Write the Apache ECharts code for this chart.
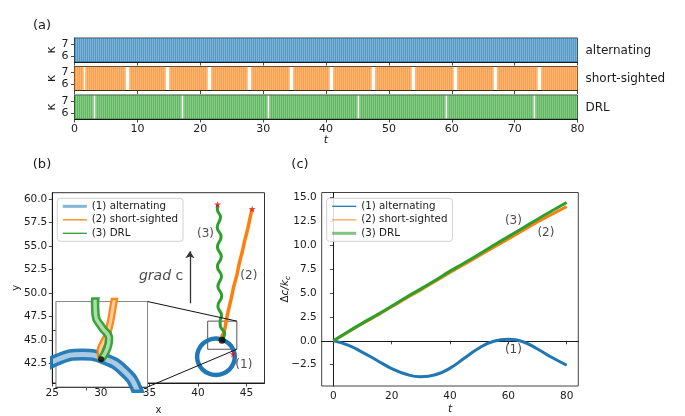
<!DOCTYPE html>
<html>
<head>
<meta charset="utf-8">
<script src="https://cdn.jsdelivr.net/npm/echarts@6/dist/echarts.min.js"></script>
<style>
html, body { margin: 0; padding: 0; background: #fff; }
#chart { width: 685px; height: 416px; }
</style>
</head>
<body>
<div id="chart"></div>
<script>
// ---------- (a) control signal kappa(t) ----------
const tMax = 80;
const kappaLow = 5.5;
const kappaHigh = 7.5;
const switchStep = 0.318;                // time between successive switches of kappa
const alternatingPauses = [];
const shortSightedPauses = [1.3, 8.1, 14.6, 21.3, 27.5, 34.3, 40.6, 47.3, 53.7, 60.4, 66.7, 73.5];
const drlPauses = [3.0, 17.1, 30.7, 44.9, 59.0, 73.0];
const pauseLengths = [0, 0.6, 0.3];
const stripNames = ['alternating', 'short-sighted', 'DRL'];
const tTicks = [0, 10, 20, 30, 40, 50, 60, 70, 80];
const kappaTicks = [6, 7];

// ---------- (b) swimmer trajectories ----------
const altX = [41.85, 42.59, 43.22, 43.64, 43.79, 43.64, 43.22, 42.59, 41.85, 41.11, 40.48, 40.06, 39.91, 40.06, 40.48, 41.11, 41.85];
const altY = [41.26, 41.41, 41.83, 42.46, 43.20, 43.94, 44.57, 44.99, 45.14, 44.99, 44.57, 43.94, 43.20, 42.46, 41.83, 41.41, 41.26];
const shortX = [42.48, 42.45, 42.66, 42.80, 42.90, 43.12, 43.42, 43.66, 44.00, 44.26, 44.56, 44.84, 45.16, 45.38, 45.58];
const shortY = [44.97, 45.30, 45.78, 46.36, 47.00, 48.10, 49.40, 50.60, 51.90, 53.20, 54.40, 55.70, 57.00, 58.10, 58.97];
const drlX = [42.48, 42.68, 42.74, 42.50, 42.30, 42.28, 42.42, 42.05, 42.45, 42.05, 42.42, 42.00, 42.40, 42.00, 42.38, 41.98, 42.32, 42.00, 42.02];
const drlY = [44.97, 45.35, 45.70, 46.10, 46.50, 47.00, 47.60, 48.60, 49.70, 50.70, 51.80, 52.80, 53.90, 54.90, 56.00, 57.00, 58.10, 58.90, 59.45];
const startPoint = [42.48, 44.97];
const endPoints = [[43.62, 43.48], [45.58, 58.97], [42.02, 59.45]];
const bxTicks = [25, 30, 35, 40, 45];
const byTicks = [42.5, 45.0, 47.5, 50.0, 52.5, 55.0, 57.5, 60.0];
const zoomBox = { x: [41, 44], y: [44, 47] };

// ---------- (c) concentration gain ----------
const tSamples = [0, 5, 10, 15, 20, 25, 30, 35, 40, 45, 50, 55, 60, 65, 70, 75, 80];
const gainAlt = [0, -0.45, -1.2, -2.05, -2.9, -3.5, -3.75, -3.55, -2.85, -1.8, -0.75, -0.05, 0.15, -0.1, -0.85, -1.75, -2.55];
const gainShort = [0, 0.90, 1.80, 2.66, 3.55, 4.45, 5.32, 6.22, 7.14, 8.00, 8.88, 9.77, 10.64, 11.52, 12.42, 13.22, 14.02];
const gainDrl = [0, 0.95, 1.85, 2.72, 3.62, 4.55, 5.42, 6.33, 7.28, 8.15, 9.05, 9.98, 10.88, 11.78, 12.70, 13.58, 14.45];
const cxTicks = [0, 20, 40, 60, 80];
const cyTicks = [-2.5, 0, 2.5, 5, 7.5, 10, 12.5, 15];

const seriesNames = ['(1) alternating', '(2) short-sighted', '(3) DRL'];
const colors = ['#1f77b4', '#ff7f0e', '#2ca02c'];
const FONT = 'DejaVu Sans';
const INK = '#1a1a1a';
const STAR = 'path://M50,0 L61,35 L98,35 L68,57 L79,91 L50,70 L21,91 L32,57 L2,35 L39,35 Z';

const zip = (xs, ys) => xs.map((x, i) => [x, ys[i]]);
const fmt1 = v => (v < 0 ? '\u2212' : '') + Math.abs(v).toFixed(1);

// times at which kappa jumps between its two levels (no jumps during a pause)
function switchTimes(pauses, pauseLen) {
  const times = [];
  for (let k = 0; k * switchStep <= tMax + 1e-9; k++) {
    const t = +(k * switchStep).toFixed(4);
    if (pauses.some(p => t >= p && t < p + pauseLen)) continue;
    times.push(t);
  }
  return times;
}
const pausesPerStrip = [alternatingPauses, shortSightedPauses, drlPauses];

// each jump is a vertical stroke spanning kappaLow..kappaHigh
function renderJump(params, api) {
  const t = api.value(0);
  const a = api.coord([t, kappaLow]);
  const b = api.coord([t, kappaHigh]);
  return {
    type: 'line',
    shape: { x1: a[0], y1: a[1], x2: b[0], y2: b[1] },
    style: { stroke: api.visual('color'), lineWidth: 2.8, opacity: 0.56 }
  };
}

const stripTops = [38, 66.5, 95];
const grids = stripTops.map(top => ({
  left: 74.5, top: top, width: 503, height: 24,
  show: true, borderColor: '#444', borderWidth: 1, backgroundColor: '#fff'
}));
grids.push({ left: 52.3, top: 192.7, width: 212.2, height: 194, show: true, borderColor: '#333', borderWidth: 1 });   // (b)
grids.push({ left: 56, top: 301.5, width: 91.5, height: 85.5, show: true, borderColor: '#888', borderWidth: 1, backgroundColor: '#fff', z: 5 }); // inset
grids.push({ left: 321.7, top: 192.5, width: 256.6, height: 196.8, show: true, borderColor: '#444', borderWidth: 1 }); // (c)

const tickStyle = { show: true, length: 3.5, lineStyle: { color: INK, width: 0.8 } };
const lineAxis = { show: true, lineStyle: { color: INK, width: 1 } };
const labelBase = { color: INK, fontFamily: FONT };

const xAxes = [];
const yAxes = [];
for (let i = 0; i < 3; i++) {
  xAxes.push({
    type: 'value', gridIndex: i, min: 0, max: tMax,
    axisLine: lineAxis, axisTick: Object.assign({}, tickStyle, { customValues: tTicks }),
    axisLabel: Object.assign({ show: i === 2, fontSize: 11, margin: 5, customValues: tTicks }, labelBase),
    splitLine: { show: false },
    name: i === 2 ? 't' : '', nameLocation: 'middle', nameGap: 16, nameMoveOverlap: false,
    nameTextStyle: { fontStyle: 'italic', fontSize: 11, color: INK, fontFamily: FONT }
  });
  yAxes.push({
    type: 'value', gridIndex: i, min: kappaLow, max: kappaHigh,
    axisLine: lineAxis, axisTick: Object.assign({}, tickStyle, { customValues: kappaTicks }),
    axisLabel: Object.assign({ fontSize: 11, margin: 6, customValues: kappaTicks }, labelBase),
    splitLine: { show: false },
    name: '\u03ba', nameLocation: 'middle', nameRotate: 90, nameGap: 16, nameMoveOverlap: false,
    nameTextStyle: { fontSize: 13, color: INK, fontFamily: FONT }
  });
}
// (b) main axes
xAxes.push({
  type: 'value', gridIndex: 3, min: 25, max: 46.85,
  axisLine: lineAxis, axisTick: Object.assign({}, tickStyle, { customValues: bxTicks }),
  axisLabel: Object.assign({ fontSize: 10.5, margin: 5, customValues: bxTicks }, labelBase),
  splitLine: { show: false },
  name: 'x', nameLocation: 'middle', nameGap: 22, nameMoveOverlap: false,
  nameTextStyle: { fontSize: 10, color: INK, fontFamily: FONT }
});
yAxes.push({
  type: 'value', gridIndex: 3, min: 40.4, max: 60.7,
  axisLine: lineAxis, axisTick: Object.assign({}, tickStyle, { customValues: byTicks }),
  axisLabel: Object.assign({ fontSize: 10.5, margin: 5, customValues: byTicks, formatter: fmt1 }, labelBase),
  splitLine: { show: false },
  name: 'y', nameLocation: 'middle', nameRotate: 90, nameGap: 31, nameMoveOverlap: false,
  nameTextStyle: { fontSize: 10, color: INK, fontFamily: FONT }
});
// (b) inset axes
xAxes.push({
  type: 'value', gridIndex: 4, min: zoomBox.x[0], max: zoomBox.x[1],
  axisLine: { show: true, lineStyle: { color: '#000', width: 1.2 } },
  axisTick: Object.assign({}, tickStyle, { customValues: [42] }),
  axisLabel: { show: false }, splitLine: { show: false }
});
yAxes.push({
  type: 'value', gridIndex: 4, min: zoomBox.y[0], max: zoomBox.y[1],
  axisLine: { show: true, lineStyle: { color: '#000', width: 1.2 } },
  axisTick: Object.assign({}, tickStyle, { customValues: [46] }),
  axisLabel: { show: false }, splitLine: { show: false }
});
// (c) axes
xAxes.push({
  type: 'value', gridIndex: 5, min: -4, max: 84,
  axisLine: lineAxis, axisTick: Object.assign({}, tickStyle, { customValues: cxTicks }),
  axisLabel: Object.assign({ fontSize: 10.5, margin: 4.5, customValues: cxTicks }, labelBase),
  splitLine: { show: false },
  name: 't', nameLocation: 'middle', nameGap: 18, nameMoveOverlap: false,
  nameTextStyle: { fontStyle: 'italic', fontSize: 10.5, color: INK, fontFamily: FONT }
});
yAxes.push({
  type: 'value', gridIndex: 5, min: -4.72, max: 15.49,
  axisLine: lineAxis, axisTick: Object.assign({}, tickStyle, { customValues: cyTicks }),
  axisLabel: Object.assign({ fontSize: 10.5, margin: 5, customValues: cyTicks, formatter: fmt1 }, labelBase),
  splitLine: { show: false },
  name: '{u|\u0394}{m|c/k}{s|c}', nameLocation: 'middle', nameRotate: 90, nameGap: 30, nameMoveOverlap: false,
  nameTextStyle: {
    color: INK, fontFamily: FONT, fontSize: 10.5,
    rich: {
      u: { fontSize: 10.5, fontFamily: FONT, color: INK },
      m: { fontSize: 10.5, fontStyle: 'italic', fontFamily: FONT, color: INK },
      s: { fontSize: 7.5, fontStyle: 'italic', fontFamily: FONT, color: INK, verticalAlign: 'bottom', padding: [4, 0, 0, 0] }
    }
  }
});

const series = [];
// (a) strips
for (let i = 0; i < 3; i++) {
  series.push({
    type: 'custom', xAxisIndex: i, yAxisIndex: i, silent: true, clip: true,
    data: switchTimes(pausesPerStrip[i], pauseLengths[i]).map(t => [t]),
    encode: { x: 0 },
    itemStyle: { color: colors[i] },
    renderItem: renderJump
  });
}
// (b) trajectories
const trajData = [zip(altX, altY), zip(shortX, shortY), zip(drlX, drlY)];
const trajWidth = [4.5, 3.5, 3];
for (let i = 0; i < 3; i++) {
  series.push({
    name: seriesNames[i], type: 'line', xAxisIndex: 3, yAxisIndex: 3,
    data: trajData[i], smooth: i === 1 ? 0.2 : true, symbol: 'none',
    lineStyle: { color: colors[i], width: trajWidth[i] }, itemStyle: { color: colors[i] }, z: 2 + i
  });
}
series.push({
  type: 'scatter', xAxisIndex: 3, yAxisIndex: 3, silent: true, z: 10,
  data: [startPoint], symbol: 'circle', symbolSize: 7, itemStyle: { color: '#000' }
});
series.push({
  type: 'scatter', xAxisIndex: 3, yAxisIndex: 3, silent: true, z: 10,
  data: endPoints, symbol: STAR, symbolSize: 7, itemStyle: { color: '#e8141c' }
});
// (b) annotations, arrow and zoom frame
series.push({
  type: 'scatter', xAxisIndex: 3, yAxisIndex: 3, silent: true, z: 11, symbolSize: 0,
  data: [
    { value: [44.72, 42.33], label: { formatter: '(1)' } },
    { value: [45.24, 51.85], label: { formatter: '(2)' } },
    { value: [40.78, 56.27], label: { formatter: '(3)' } },
    { value: [36.2, 51.82], label: { formatter: '{i|grad} c', fontSize: 14, rich: { i: { fontStyle: 'italic', fontSize: 14, fontFamily: FONT, color: INK } } } }
  ],
  label: { show: true, position: 'inside', fontSize: 12, color: INK, fontFamily: FONT },
  markLine: {
    silent: true, symbol: ['none', 'arrow'], symbolSize: 7,
    lineStyle: { color: '#333', width: 1.3, type: 'solid' }, label: { show: false },
    data: [[{ coord: [39.17, 48.9] }, { coord: [39.17, 54.45] }]]
  },
  markArea: {
    silent: true,
    itemStyle: { color: 'rgba(0,0,0,0)', borderColor: '#555', borderWidth: 1 },
    data: [[{ coord: [zoomBox.x[0], zoomBox.y[1]] }, { coord: [zoomBox.x[1], zoomBox.y[0]] }]]
  }
});
// (b) inset: thick rings drawn as an outer band with a pale core
const insetOuter = [12, 7.5, 8.5];
const insetInner = [5, 3, 3.5];
for (let i = 0; i < 3; i++) {
  series.push({
    type: 'line', xAxisIndex: 4, yAxisIndex: 4, silent: true, clip: true, z: 6 + 2 * i,
    data: trajData[i], smooth: i === 1 ? 0.2 : true, symbol: 'none',
    lineStyle: { color: colors[i], width: insetOuter[i], opacity: 0.95 }
  });
  series.push({
    type: 'line', xAxisIndex: 4, yAxisIndex: 4, silent: true, clip: true, z: 7 + 2 * i,
    data: trajData[i], smooth: i === 1 ? 0.2 : true, symbol: 'none',
    lineStyle: { color: 'rgba(255,255,255,0.6)', width: insetInner[i] }
  });
}
series.push({
  type: 'scatter', xAxisIndex: 4, yAxisIndex: 4, silent: true, z: 14,
  data: [startPoint], symbol: 'circle', symbolSize: 6, itemStyle: { color: '#000' }
});
// (c) gain curves
const gainData = [gainAlt, gainShort, gainDrl];
for (let i = 0; i < 3; i++) {
  series.push({
    name: seriesNames[i], type: 'line', xAxisIndex: 5, yAxisIndex: 5,
    data: zip(tSamples, gainData[i]), smooth: true, symbol: 'none',
    lineStyle: { color: colors[i], width: 3 }, itemStyle: { color: colors[i] }, z: 2 + i
  });
}
series.push({
  type: 'scatter', xAxisIndex: 5, yAxisIndex: 5, silent: true, z: 11, symbolSize: 0,
  data: [
    { value: [61.74, -0.92], label: { formatter: '(1)' } },
    { value: [72.9, 11.24], label: { formatter: '(2)' } },
    { value: [61.74, 12.5], label: { formatter: '(3)' } }
  ],
  label: { show: true, position: 'inside', fontSize: 12, color: INK, fontFamily: FONT }
});

function legendItems(styles) {
  return seriesNames.map((n, i) => ({
    name: n,
    itemStyle: { opacity: 0 },
    lineStyle: { color: colors[i], width: styles[i][0], opacity: styles[i][1] }
  }));
}
const legendBase = {
  orient: 'vertical', itemWidth: 24, itemHeight: 12, itemGap: 3.5,
  padding: [3, 5, 3, 4], borderColor: '#d0d0d0', borderWidth: 1, borderRadius: 3,
  backgroundColor: 'rgba(255,255,255,0.85)', selectedMode: false,
  textStyle: { fontSize: 10.3, color: INK, fontFamily: FONT }
};

const graphicTexts = [
  { id: 'pa', type: 'text', style: { text: '(a)', x: 42, y: 26, fontSize: 13, fontFamily: FONT, fill: INK, align: 'center', verticalAlign: 'middle' } },
  { id: 'pb', type: 'text', style: { text: '(b)', x: 42, y: 165, fontSize: 13, fontFamily: FONT, fill: INK, align: 'center', verticalAlign: 'middle' } },
  { id: 'pc', type: 'text', style: { text: '(c)', x: 300, y: 165, fontSize: 13, fontFamily: FONT, fill: INK, align: 'center', verticalAlign: 'middle' } }
];
stripNames.forEach((s, i) => {
  graphicTexts.push({ id: 'sn' + i, type: 'text', style: { text: s, x: 585.5, y: stripTops[i] + 12.5, fontSize: 12, fontFamily: FONT, fill: INK, align: 'left', verticalAlign: 'middle' } });
});

const chart = echarts.init(document.getElementById('chart'), null, { renderer: 'canvas' });
chart.setOption({
  animation: false,
  backgroundColor: '#fff',
  grid: grids,
  xAxis: xAxes,
  yAxis: yAxes,
  legend: [
    Object.assign({ left: 57.3, top: 198.3, data: legendItems([[3, 0.55], [1.5, 0.85], [1.3, 1]]) }, legendBase),
    Object.assign({ left: 326.7, top: 198.3, data: legendItems([[1.3, 1], [1.5, 0.6], [3, 0.6]]) }, legendBase)
  ],
  series: series,
  graphic: graphicTexts
});

// connector lines from the zoom frame to the inset
const corners = [[zoomBox.x[1], zoomBox.y[1]], [zoomBox.x[1], zoomBox.y[0]]];
const connectors = corners.map((c, k) => {
  const a = chart.convertToPixel({ gridIndex: 3 }, c);
  const b = chart.convertToPixel({ gridIndex: 4 }, c);
  return { id: 'cn' + k, type: 'line', z: 20, shape: { x1: a[0], y1: a[1], x2: b[0], y2: b[1] }, style: { stroke: '#111', lineWidth: 1 } };
});
chart.setOption({ graphic: graphicTexts.concat(connectors) });
</script>
</body>
</html>
